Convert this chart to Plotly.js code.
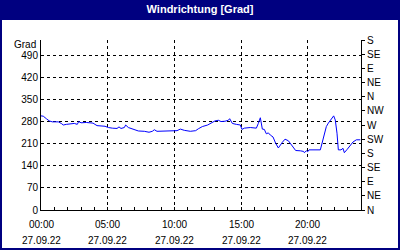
<!DOCTYPE html>
<html><head><meta charset="utf-8">
<script src="https://cdn.plot.ly/plotly-3.0.1.min.js"></script>
<style>html,body{margin:0;padding:0;background:#fff}#c{width:400px;height:250px}</style>
</head><body><div id="c"></div>
<script>
const hours = [0.0,0.17,0.4,0.62,0.85,1.3,1.52,1.67,1.9,2.2,2.5,2.72,2.83,3.0,3.4,3.9,4.2,4.8,5.05,5.35,5.7,5.85,6.0,6.25,6.35,6.55,6.9,7.3,7.75,8.1,8.35,8.5,8.7,9.15,9.7,10.2,10.45,10.75,11.2,11.6,11.8,12.1,12.5,12.8,13.05,13.3,13.5,13.8,14.05,14.15,14.35,14.65,14.95,15.07,15.25,15.7,16.0,16.15,16.3,16.45,16.6,16.75,16.9,17.05,17.2,17.4,17.6,17.8,18.1,18.3,18.55,18.8,19.1,19.45,19.7,19.75,19.9,20.0,20.1,20.95,21.0,21.2,21.4,21.55,21.8,21.95,22.07,22.2,22.3,22.5,22.65,22.75,22.97,23.2,23.4,23.65,23.95];
const direction = [299,298,290,283,280,280,275,270,272,273,275,272,281,277,278,276,268,266,262,260,259,264,259,262,270,262,256,251,250,247,250,255,250,251,252,252,257,253,250,252,258,265,270,277,283,285,281,282,285,290,275,272,270,256,260,262,262,260,275,293,257,256,242,245,238,232,212,197,215,225,220,204,189,188,186,182,188,185,191,191,200,233,265,276,292,299,286,244,191,191,196,182,193,204,216,223,223];
const leftTicks = [0,70,140,210,280,350,420,490];
const rightTicks = [0,45,90,135,180,225,270,315,360,405,450,495,540];
const rightLabels = ['N','NE','E','SE','S','SW','W','NW','N','NE','E','SE','S'];
const xTicks = [0,5,10,15,20];
const xTimeLabels = ['00:00','05:00','10:00','15:00','20:00'];
const xDateLabels = ['27.09.22','27.09.22','27.09.22','27.09.22','27.09.22'];
const titleText = 'Windrichtung [Grad]';
const unitLabel = 'Grad';

const font = {family:'Liberation Sans, Arial, sans-serif', size:10, color:'#000'};
const navy = '#000080';

const trace = {x:hours, y:direction, type:'scatter', mode:'lines',
  line:{color:'#0000ff', width:1}, hoverinfo:'skip', showlegend:false};
const dummy = {x:[0], y:[0], yaxis:'y2', type:'scatter', mode:'none', hoverinfo:'skip', showlegend:false};

const annotations = [];
xTicks.forEach((t,i)=>{
  annotations.push({x:t, xref:'x', y:0, yref:'paper', yanchor:'top', xanchor:'center',
    text:xTimeLabels[i], showarrow:false, yshift:-7, font:font});
  annotations.push({x:t, xref:'x', y:0, yref:'paper', yanchor:'top', xanchor:'center',
    text:xDateLabels[i], showarrow:false, yshift:-23, font:font});
});
annotations.push({x:0, xref:'paper', xanchor:'right', xshift:-3, y:525, yref:'y', yanchor:'middle',
  text:unitLabel, showarrow:false, font:font});

const layout = {
  width:400, height:250,
  margin:{l:41, r:39, t:40, b:40, pad:0},
  paper_bgcolor:'#ffffff', plot_bgcolor:'#ffffff',
  title:{text:titleText, font:{family:'Liberation Sans, Arial, sans-serif', size:11, color:'#ffffff', weight:'bold'},
    xref:'container', x:0.5, xanchor:'center', yref:'container', y:0.962, yanchor:'middle'},
  xaxis:{range:[0,24], tickvals:xTicks, showticklabels:false, showgrid:true, gridcolor:'#000', griddash:'3px,3px', gridwidth:1,
    showline:true, linecolor:'#000', linewidth:1, ticks:'inside', ticklen:3, tickcolor:'#000', zeroline:false,
    minor:{dtick:1, tick0:0, ticks:'inside', ticklen:3, tickcolor:'#000', showgrid:false},
    tickfont:font, fixedrange:true},
  yaxis:{range:[0,540], tickvals:leftTicks, showgrid:true, gridcolor:'#000', griddash:'3px,3px', gridwidth:1,
    showline:true, linecolor:'#000', linewidth:1, ticks:'', zeroline:false, tickfont:font, fixedrange:true},
  yaxis2:{range:[0,540], overlaying:'y', side:'right', tickvals:rightTicks, ticktext:rightLabels, showgrid:false,
    showline:true, linecolor:'#000', linewidth:1, ticks:'outside', ticklen:3, tickcolor:'#000', zeroline:false,
    tickfont:font, fixedrange:true},
  annotations:annotations,
  shapes:[
    {type:'rect', xref:'paper', yref:'paper', x0:-0.128125, x1:1.121875, y0:1.117647, y1:1.235294, fillcolor:navy, line:{width:0}, layer:'below'},
    {type:'rect', xref:'paper', yref:'paper', x0:-0.128125, x1:-0.121875, y0:-0.235294, y1:1.235294, fillcolor:navy, line:{width:0}},
    {type:'rect', xref:'paper', yref:'paper', x0:1.115625, x1:1.121875, y0:-0.235294, y1:1.235294, fillcolor:navy, line:{width:0}},
    {type:'rect', xref:'paper', yref:'paper', x0:-0.128125, x1:1.121875, y0:-0.235294, y1:-0.223529, fillcolor:navy, line:{width:0}}
  ]
};
Plotly.newPlot('c', [trace, dummy], layout, {staticPlot:true, displayModeBar:false});
</script></body></html>
